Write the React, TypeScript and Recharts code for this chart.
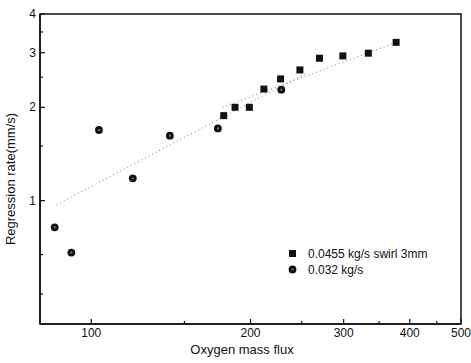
import { ComposedChart, Scatter, Line, XAxis, YAxis, ReferenceArea } from "recharts";

// 0.0455 kg/s swirl 3mm (squares)
const swirlFlux = [178, 187, 199, 212, 228, 248, 270, 299, 334, 377];
const swirlRate = [1.88, 2.0, 2.0, 2.29, 2.47, 2.64, 2.88, 2.93, 2.99, 3.24];

// 0.032 kg/s (circles)
const baseFlux = [85.3, 91.7, 103.4, 119.8, 140.8, 173.5, 228.7];
const baseRate = [0.82, 0.68, 1.69, 1.18, 1.62, 1.71, 2.28];

// dotted power-law fits (end points)
const fitBaseFlux = [86, 255];
const fitBaseRate = [0.97, 2.58];
const fitSwirlFlux = [177, 377];
const fitSwirlRate = [2.0, 3.24];

const xTicks = [100, 150, 200, 250, 300, 350, 400, 450, 500];
const xMajor = [100, 200, 300, 400, 500];
const yTicks = [0.5, 0.67, 1, 1.5, 2, 2.5, 3, 3.5, 4];
const yMajor = [1, 2, 3, 4];

const zip = (xs: number[], ys: number[]) => xs.map((x, i) => ({ x, y: ys[i] }));
const swirlData = zip(swirlFlux, swirlRate);
const baseData = zip(baseFlux, baseRate);
const fitBase = zip(fitBaseFlux, fitBaseRate);
const fitSwirl = zip(fitSwirlFlux, fitSwirlRate);

const FONT = "'Liberation Sans', Arial, sans-serif";
const INK = "#111";

const SquareDot = (p: any) => <rect x={p.cx - 3.5} y={p.cy - 3.5} width={7} height={7} fill={INK} />;
const CircleDot = (p: any) => (
  <g>
    <circle cx={p.cx} cy={p.cy} r={3.9} fill={INK} />
    <circle cx={p.cx} cy={p.cy} r={1.1} fill="#777" />
  </g>
);

const XTick = (p: any) => {
  const v = p.payload.value;
  const major = xMajor.includes(v);
  return (
    <g>
      <line x1={p.x} x2={p.x} y1={p.y} y2={p.y - (major ? 5 : 3)} stroke={INK} strokeWidth={1.2} />
      {major && (
        <text x={p.x} y={p.y + 13} textAnchor="middle" fontSize={12} fontFamily={FONT} fill={INK}>
          {v}
        </text>
      )}
    </g>
  );
};

const YTick = (p: any) => {
  const v = p.payload.value;
  const major = yMajor.includes(v);
  return (
    <g>
      <line x1={p.x} x2={p.x + (major ? 5 : 3)} y1={p.y} y2={p.y} stroke={INK} strokeWidth={1.2} />
      {major && (
        <text x={p.x - 4} y={p.y + 4} textAnchor="end" fontSize={12} fontFamily={FONT} fill={INK}>
          {v}
        </text>
      )}
    </g>
  );
};

const LegendBox = () => (
  <svg width={180} height={36} style={{ fontFamily: FONT, position: "absolute", left: 286, top: 246 }}>
    <rect x={3} y={4} width={7} height={7} fill={INK} />
    <text x={22} y={12} fontSize={12} fill={INK}>0.0455 kg/s swirl 3mm</text>
    <circle cx={6.5} cy={23.5} r={3.9} fill={INK} />
    <circle cx={6.5} cy={23.5} r={1.1} fill="#777" />
    <text x={22} y={28} fontSize={12} fill={INK}>0.032 kg/s</text>
  </svg>
);

export default function App() {
  return (
    <div style={{ position: "absolute", left: 0, top: 0, width: 471, height: 363, background: "#fff" }}>
      <ComposedChart width={471} height={363} margin={{ top: 14, right: 10, bottom: 9, left: 0 }}>
        <XAxis
          dataKey="x"
          type="number"
          scale="log"
          domain={[80, 500]}
          allowDataOverflow
          ticks={xTicks}
          interval={0}
          tickSize={0}
          tickMargin={0}
          tick={<XTick />}
          height={30}
          axisLine={{ stroke: INK, strokeWidth: 1.5 }}
          label={{
            content: () => (
              <text x={242} y={354} textAnchor="middle" fontSize={13} fontFamily={FONT} fill={INK}>
                Oxygen mass flux
              </text>
            ),
          }}
        />
        <YAxis
          dataKey="y"
          type="number"
          scale="log"
          domain={[0.4, 4]}
          allowDataOverflow
          ticks={yTicks}
          interval={0}
          tickSize={0}
          tickMargin={0}
          tick={<YTick />}
          width={40}
          axisLine={{ stroke: INK, strokeWidth: 1.5 }}
          label={{
            content: () => (
              <text
                x={15}
                y={179}
                transform="rotate(-90 15 179)"
                textAnchor="middle"
                fontSize={13}
                fontFamily={FONT}
                fill={INK}
              >
                Regression rate(mm/s)
              </text>
            ),
          }}
        />
        <ReferenceArea x1={80} x2={500} y1={0.4} y2={4} fill="none" stroke={INK} strokeWidth={1.5} />
        <Line
          data={fitBase}
          dataKey="y"
          stroke="#777"
          strokeWidth={1}
          strokeDasharray="1 3"
          dot={false}
          legendType="none"
          isAnimationActive={false}
        />
        <Line
          data={fitSwirl}
          dataKey="y"
          stroke="#777"
          strokeWidth={1}
          strokeDasharray="1 3"
          dot={false}
          legendType="none"
          isAnimationActive={false}
        />
        <Scatter name="0.0455 kg/s swirl 3mm" data={swirlData} dataKey="y" shape={SquareDot} isAnimationActive={false} />
        <Scatter name="0.032 kg/s" data={baseData} dataKey="y" shape={CircleDot} isAnimationActive={false} />
      </ComposedChart>
      <LegendBox />
    </div>
  );
}
